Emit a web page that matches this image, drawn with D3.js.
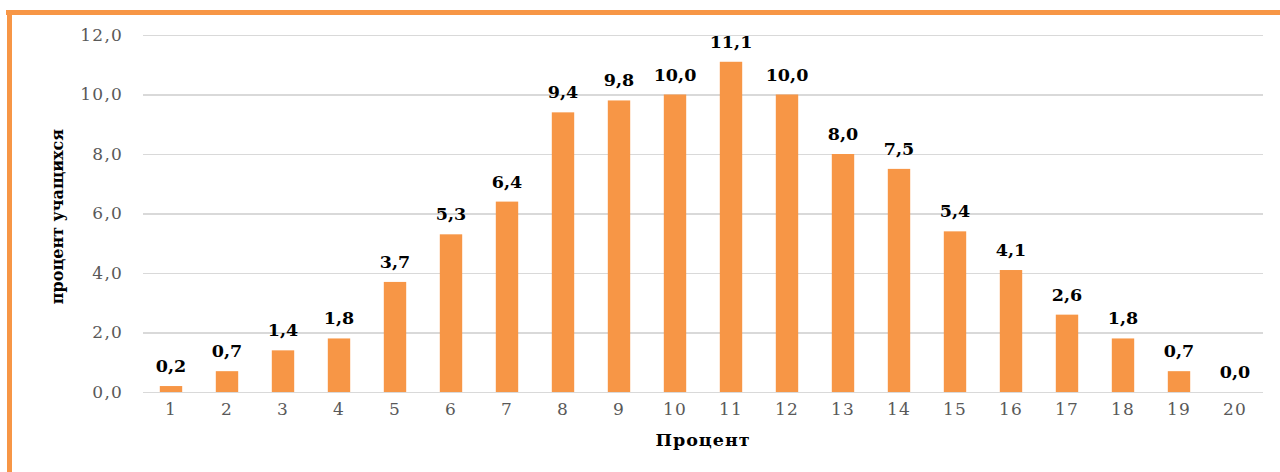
<!DOCTYPE html>
<meta charset="utf-8">
<style>
body { margin: 0; background: #fff; }
.grid line { stroke: #d9d9d9; stroke-width: 1.2; shape-rendering: crispEdges; }
.grid path { display: none; }
.axis text { font-family: "DejaVu Serif", serif; font-size: 17px; fill: #595959; letter-spacing: 1.2px; }
.axis path, .axis line { display: none; }
.label { font-family: "DejaVu Serif", serif; font-weight: bold; font-size: 17.5px; fill: #000; text-anchor: middle; }
.title { font-family: "DejaVu Serif", serif; font-weight: bold; font-size: 16px; fill: #000; text-anchor: middle; }
</style>
<svg width="1280" height="472"></svg>
<script src="https://d3js.org/d3.v7.min.js"></script>
<script>

var categories = ["1","2","3","4","5","6","7","8","9","10","11","12","13","14","15","16","17","18","19","20"];
var values = [0.2, 0.7, 1.4, 1.8, 3.7, 5.3, 6.4, 9.4, 9.8, 10.0, 11.1, 10.0, 8.0, 7.5, 5.4, 4.1, 2.6, 1.8, 0.7, 0.0];
var yTicks = [0, 2, 4, 6, 8, 10, 12];

var svg = d3.select("svg"),
    margin = {top: 35, right: 17, bottom: 80, left: 143},
    width = 1280 - margin.left - margin.right,
    height = 472 - margin.top - margin.bottom;

var fmt = function(d) { return d3.format(".1f")(d).replace(".", ","); };

// orange frame on top and left
svg.append("rect")
    .attr("x", 6).attr("y", 10)
    .attr("width", 1274).attr("height", 5)
    .attr("fill", "#f79646");
svg.append("rect")
    .attr("x", 7).attr("y", 10)
    .attr("width", 5).attr("height", 462)
    .attr("fill", "#f79646");

var g = svg.append("g")
    .attr("transform", "translate(" + margin.left + "," + margin.top + ")");

var x = d3.scaleBand()
    .domain(categories)
    .range([0, width])
    .paddingInner(0.6)
    .paddingOuter(0.3);

var y = d3.scaleLinear()
    .domain([0, 12])
    .range([height, 0]);

g.append("g")
    .attr("class", "grid")
    .call(d3.axisLeft(y).tickValues(yTicks).tickSize(-width).tickFormat(""));

g.append("g")
    .attr("class", "axis")
    .call(d3.axisLeft(y).tickValues(yTicks).tickSize(0).tickPadding(20).tickFormat(fmt));

g.append("g")
    .attr("class", "axis")
    .attr("transform", "translate(0," + height + ")")
    .call(d3.axisBottom(x).tickSize(0).tickPadding(11));

g.selectAll(".bar")
    .data(values)
    .enter().append("rect")
    .attr("class", "bar")
    .attr("x", function(d, i) { return x(categories[i]); })
    .attr("y", function(d) { return y(d); })
    .attr("width", x.bandwidth())
    .attr("height", function(d) { return height - y(d); })
    .attr("fill", "#f79646");

g.selectAll(".label")
    .data(values)
    .enter().append("text")
    .attr("class", "label")
    .attr("x", function(d, i) { return x(categories[i]) + x.bandwidth() / 2; })
    .attr("y", function(d) { return y(d) - 14; })
    .text(fmt);

g.append("text")
    .attr("class", "title")
    .attr("x", 560)
    .attr("y", height + 54)
    .style("font-size", "17.5px")
    .style("letter-spacing", "1px")
    .text("Процент");

g.append("text")
    .attr("class", "title")
    .attr("transform", "translate(-80," + (height / 2 + 3) + ") rotate(-90)")
    .text("процент учащихся");

</script>
